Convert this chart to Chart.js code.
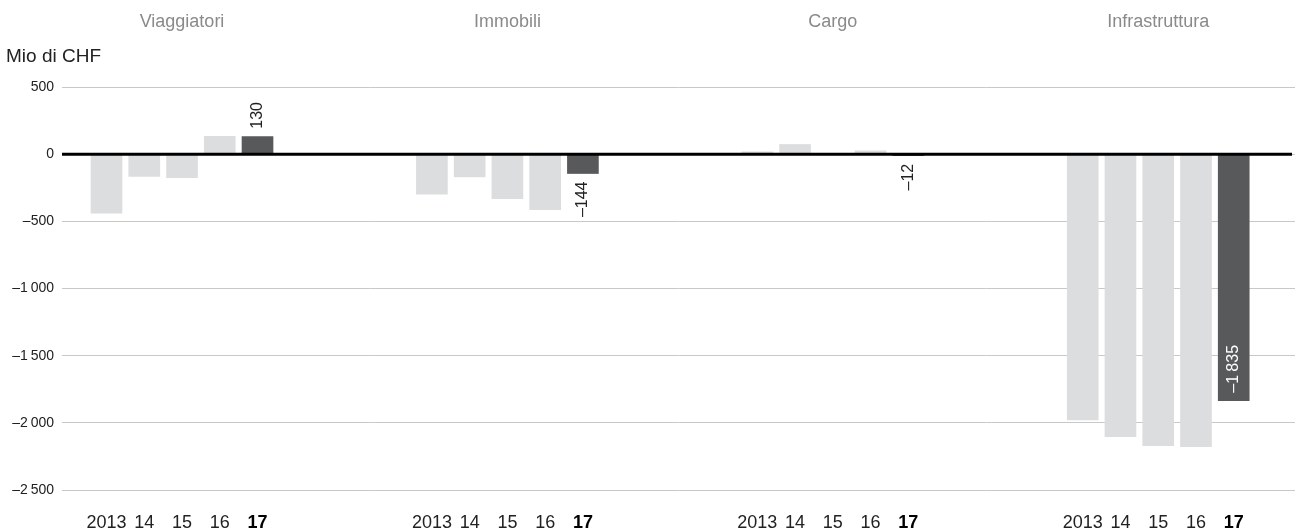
<!DOCTYPE html>
<html lang="it">
<head>
    <meta charset="UTF-8">
    <title>Risultati per divisione</title>
    <style>
        html, body { margin: 0; padding: 0; background: #fff; }
        #wrap { width: 1295px; height: 531px; position: relative; }
    </style>
</head>
<body>
    <div id="wrap"><canvas id="chart"></canvas></div>

    <script src="https://cdn.jsdelivr.net/npm/chart.js"></script>
    <script>
        // data (Mio di CHF)
        const categories = ['Viaggiatori', 'Immobili', 'Cargo', 'Infrastruttura'];
        const years = ['2013', '14', '15', '16', '17'];
        const viaggiatori = [-440, -165, -175, 133, 130];
        const immobili = [-298, -170, -332, -414, -144];
        const cargo = [18, 72, -5, 25, -12];
        const infrastruttura = [-1979, -2103, -2170, -2177, -1835];
        const yTicks = [500, 0, -500, -1000, -1500, -2000, -2500];

        const series = [viaggiatori, immobili, cargo, infrastruttura];
        const groupStep = 8.62;   // distance between groups, in bar slots
        const font = '"Liberation Sans", Arial, sans-serif';

        const points = [];
        const colors = [];
        const tickPos = [];
        const tickText = [];
        series.forEach((vals, g) => {
            vals.forEach((v, j) => {
                points.push({ x: g * groupStep + j, y: v });
                colors.push(j === vals.length - 1 ? '#58595b' : '#dcdddf');
                tickPos.push(g * groupStep + j);
                tickText.push(years[j]);
            });
        });

        function fmt(v) {
            const s = Math.abs(v).toString().replace(/\B(?=(\d{3})+(?!\d))/g, '\u2009');
            return (v < 0 ? '\u2013' : '') + s;
        }

        const textPlugin = {
            id: 'texts',
            afterDatasetsDraw(chart) {
                const ctx = chart.ctx;
                const x = chart.scales.x;
                const y = chart.scales.y;
                const area = chart.chartArea;
                ctx.save();
                // zero line above the bars
                const y0 = y.getPixelForValue(0);
                ctx.strokeStyle = '#000';
                ctx.lineWidth = 3;
                ctx.beginPath();
                ctx.moveTo(area.left, y0);
                ctx.lineTo(area.right - 3, y0);
                ctx.stroke();
                // unit
                ctx.font = '19px ' + font;
                ctx.fillStyle = '#222';
                ctx.textAlign = 'left';
                ctx.textBaseline = 'middle';
                ctx.fillText('Mio di CHF', 6, 57);
                // group titles
                ctx.font = '18px ' + font;
                ctx.fillStyle = '#8a8a8a';
                ctx.textAlign = 'center';
                categories.forEach((c, g) => {
                    ctx.fillText(c, x.getPixelForValue(g * groupStep + 2), 22);
                });
                // value labels for the last year
                const meta = chart.getDatasetMeta(0);
                ctx.font = '16px ' + font;
                meta.data.forEach((el, i) => {
                    if (i % years.length !== years.length - 1) return;
                    const v = points[i].y;
                    ctx.save();
                    ctx.textBaseline = 'middle';
                    if (v >= 0) {
                        ctx.translate(el.x, el.y - 8);
                        ctx.textAlign = 'left';
                        ctx.fillStyle = '#222';
                    } else if (Math.abs(el.base - el.y) > 70) {
                        ctx.translate(el.x, el.y - 8);
                        ctx.textAlign = 'left';
                        ctx.fillStyle = '#fff';
                    } else {
                        ctx.translate(el.x, Math.max(el.y, el.base) + 8);
                        ctx.textAlign = 'right';
                        ctx.fillStyle = '#222';
                    }
                    ctx.rotate(-Math.PI / 2);
                    ctx.fillText(fmt(v), 0, 0);
                    ctx.restore();
                });
                ctx.restore();
            }
        };

        new Chart(document.getElementById('chart'), {
            type: 'bar',
            data: {
                datasets: [{
                    data: points,
                    backgroundColor: colors,
                    barThickness: 31,
                    borderWidth: 0
                }]
            },
            options: {
                responsive: true,
                maintainAspectRatio: false,
                animation: false,
                layout: { padding: { top: 87, left: 0, right: 0, bottom: 0 } },
                plugins: { legend: { display: false }, tooltip: { enabled: false } },
                scales: {
                    x: {
                        type: 'linear',
                        offset: false,
                        min: -1.179,
                        max: -1.179 + 1233 / 37.75,
                        grid: { display: false, drawTicks: false },
                        border: { display: false },
                        afterBuildTicks(scale) {
                            scale.ticks = tickPos.map(v => ({ value: v }));
                        },
                        afterFit(scale) { scale.height = 41; },
                        ticks: {
                            autoSkip: false,
                            maxRotation: 0,
                            padding: 22,
                            callback: (v, i) => tickText[i],
                            color: (c) => c.index % 5 === 4 ? '#000' : '#222',
                            font: (c) => ({
                                family: font,
                                size: 18,
                                weight: c.index % 5 === 4 ? 'bold' : 'normal'
                            })
                        }
                    },
                    y: {
                        min: -2500,
                        max: 500,
                        afterBuildTicks(scale) {
                            scale.ticks = yTicks.map(v => ({ value: v }));
                        },
                        afterFit(scale) { scale.width = 62; },
                        grid: {
                            drawTicks: false,
                            color: '#c8c8c8',
                            lineWidth: 1
                        },
                        border: { display: false },
                        ticks: {
                            padding: 8,
                            color: '#222',
                            font: { family: font, size: 14 },
                            callback: (v) => fmt(v)
                        }
                    }
                }
            },
            plugins: [textPlugin]
        });
    </script>
</body>
</html>
